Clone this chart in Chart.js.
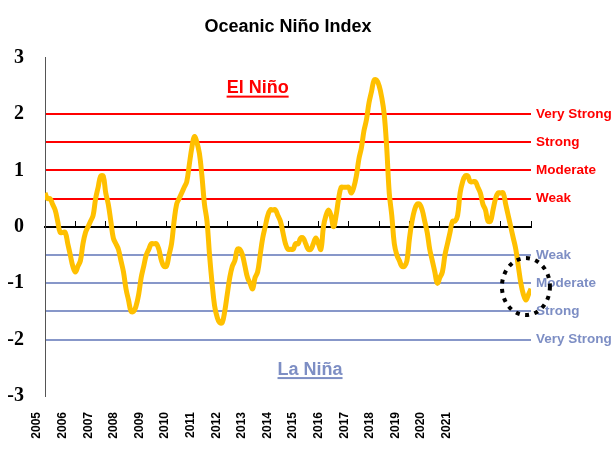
<!DOCTYPE html>
<html>
<head>
<meta charset="utf-8">
<script src="https://cdn.jsdelivr.net/npm/chart.js@4/dist/chart.umd.min.js"></script>
<style>
html, body { margin: 0; padding: 0; background: #ffffff; }
canvas { display: block; }
</style>
</head>
<body>
<canvas id="chart" width="612" height="456"></canvas>
<script>
// ---- Data ----
const yearLabels = ['2005','2006','2007','2008','2009','2010','2011','2012','2013',
                    '2014','2015','2016','2017','2018','2019','2020','2021'];

// Monthly Oceanic Niño Index, Jan 2005 .. Jan 2021
const oniValues = [
  0.6, 0.5, 0.5, 0.4, 0.3, 0.1, -0.1, -0.1, -0.1, -0.3, -0.5, -0.7,      // 2005
  -0.8, -0.7, -0.6, -0.3, -0.1, 0.0, 0.1, 0.2, 0.5, 0.7, 0.9, 0.9,       // 2006
  0.6, 0.4, 0.1, -0.2, -0.3, -0.4, -0.6, -0.8, -1.1, -1.3, -1.5, -1.5,   // 2007
  -1.4, -1.2, -0.9, -0.7, -0.5, -0.4, -0.3, -0.3, -0.3, -0.4, -0.6, -0.7,// 2008
  -0.7, -0.5, -0.3, 0.1, 0.4, 0.5, 0.6, 0.7, 0.8, 1.1, 1.4, 1.6,         // 2009
  1.5, 1.3, 0.9, 0.4, 0.1, -0.5, -1.0, -1.4, -1.6, -1.7, -1.7, -1.5,     // 2010
  -1.2, -0.9, -0.7, -0.6, -0.4, -0.4, -0.5, -0.7, -0.9, -1.0, -1.1, -0.9,// 2011
  -0.8, -0.5, -0.2, 0.0, 0.2, 0.3, 0.3, 0.3, 0.2, 0.1, -0.1, -0.3,       // 2012
  -0.4, -0.4, -0.4, -0.3, -0.3, -0.2, -0.2, -0.3, -0.4, -0.4, -0.3, -0.2,// 2013
  -0.3, -0.4, 0.0, 0.2, 0.3, 0.2, 0.0, 0.2, 0.5, 0.7, 0.7, 0.7,          // 2014
  0.7, 0.6, 0.7, 0.9, 1.2, 1.4, 1.7, 1.9, 2.2, 2.4, 2.6, 2.6,            // 2015
  2.5, 2.3, 2.0, 1.4, 0.6, 0.2, -0.3, -0.5, -0.6, -0.7, -0.7, -0.6,      // 2016
  -0.2, 0.1, 0.3, 0.4, 0.4, 0.3, 0.1, -0.1, -0.4, -0.6, -0.8, -1.0,      // 2017
  -0.9, -0.8, -0.5, -0.3, -0.1, 0.1, 0.1, 0.2, 0.6, 0.8, 0.9, 0.9,       // 2018
  0.8, 0.8, 0.8, 0.7, 0.6, 0.4, 0.3, 0.1, 0.1, 0.3, 0.5, 0.6,            // 2019
  0.6, 0.6, 0.4, 0.2, 0.0, -0.2, -0.4, -0.7, -1.0, -1.2, -1.3, -1.2,     // 2020
  -1.1                                                                     // 2021
];

const thresholdLevels = [2, 1.5, 1, 0.5, -0.5, -1, -1.5, -2];
const thresholdNames  = ['Very Strong', 'Strong', 'Moderate', 'Weak',
                         'Weak', 'Moderate', 'Strong', 'Very Strong'];
const yAxisTicks = [-3, -2, -1, 0, 1, 2, 3];

const phaseTexts  = ['El Niño', 'La Niña'];
const phaseMonths = [84, 104.7];
const phaseValues = [2.37, -2.62];

const highlightMonth = 190;
const highlightValue = -1.06;

// ---- Styles ----
const RED = '#ff0000';
const BLUE_LINE = '#8797c9';
const BLUE_TEXT = '#7d8ec4';
const ORANGE = '#ffc000';
const SANS = '"Liberation Sans", Arial, sans-serif';
const SERIF = '"Liberation Serif", "Times New Roman", serif';

function levelColor(v, forText) {
  const idx = thresholdLevels.indexOf(v);
  if (idx === -1) return 'rgba(0,0,0,0)';
  return v > 0 ? RED : (forText ? BLUE_TEXT : BLUE_LINE);
}

const annotations = {
  id: 'oniAnnotations',
  afterDatasetsDraw(chart) {
    const { ctx, scales } = chart;
    const x = scales.x, y = scales.y;
    ctx.save();
    phaseTexts.forEach((t, i) => {
      const px = x.getPixelForValue(phaseMonths[i]);
      const py = y.getPixelForValue(phaseValues[i]);
      const col = phaseValues[i] > 0 ? RED : BLUE_TEXT;
      ctx.font = 'bold 18px ' + SANS;
      ctx.fillStyle = col;
      ctx.textAlign = 'center';
      ctx.textBaseline = 'alphabetic';
      ctx.fillText(t, px, py);
      const w = ctx.measureText(t).width;
      ctx.fillRect(px - w / 2, py + 2.5, w, 2);
    });
    const cx = x.getPixelForValue(highlightMonth);
    const cy = y.getPixelForValue(highlightValue);
    ctx.beginPath();
    ctx.setLineDash([4, 5.5]);
    ctx.lineWidth = 4;
    ctx.strokeStyle = '#000000';
    ctx.ellipse(cx, cy, 24, 28.5, 0, 0, Math.PI * 2);
    ctx.stroke();
    ctx.restore();
  }
};

new Chart(document.getElementById('chart'), {
  type: 'line',
  data: {
    datasets: [{
      label: 'ONI',
      data: oniValues.map((v, i) => ({ x: i, y: v })),
      borderColor: ORANGE,
      borderWidth: 5,
      pointRadius: 0,
      tension: 0.4,
      borderJoinStyle: 'round',
      borderCapStyle: 'butt',
      fill: false
    }]
  },
  options: {
    responsive: false,
    animation: false,
    devicePixelRatio: 1,
    layout: { padding: { left: 7, right: 0, top: 3, bottom: 17 } },
    plugins: {
      legend: { display: false },
      tooltip: { enabled: false },
      title: {
        display: true,
        text: 'Oceanic Niño Index',
        fullSize: false,
        color: '#000000',
        font: { family: SANS, size: 18, weight: 'bold' },
        padding: { top: 13, bottom: 20 }
      }
    },
    scales: {
      x: {
        type: 'linear',
        position: { y: 0 },
        min: 0,
        max: (yearLabels.length - 1) * 12,
        ticks: { display: false, stepSize: 12 },
        grid: { display: true, drawOnChartArea: false, drawTicks: true, tickLength: -7, color: '#000000', lineWidth: 1 },
        border: { display: true, color: '#000000', width: 2 }
      },
      xl: {
        type: 'linear',
        position: 'bottom',
        min: 0,
        max: 18.98,
        afterBuildTicks: (axis) => { axis.ticks = yearLabels.map((_, i) => ({ value: i })); },
        afterFit: (axis) => { axis.height = 43; },
        ticks: {
          autoSkip: false,
          minRotation: 90,
          maxRotation: 90,
          padding: 16,
          labelOffset: -8,
          color: '#000000',
          font: { family: SANS, size: 12, weight: 'bold' },
          callback: (v) => yearLabels[v]
        },
        grid: { display: false, drawTicks: false },
        border: { display: false }
      },
      y: {
        type: 'linear',
        position: 'left',
        min: -3,
        max: 3,
        afterFit: (axis) => { axis.width = 38; },
        ticks: {
          stepSize: 0.5,
          autoSkip: false,
          padding: 21,
          color: '#000000',
          font: { family: SERIF, size: 20, weight: 'bold' },
          callback: (v) => yAxisTicks.includes(v) ? String(v) : ''
        },
        grid: {
          drawTicks: false,
          lineWidth: 2,
          color: (ctx) => ctx.tick ? (ctx.tick.value === 0 ? '#000000' : levelColor(ctx.tick.value, false)) : 'rgba(0,0,0,0)'
        },
        border: { display: true, color: '#555555', width: 1 }
      },
      yr: {
        type: 'linear',
        position: 'right',
        min: -3,
        max: 3,
        afterFit: (axis) => { axis.width = 81; },
        ticks: {
          stepSize: 0.5,
          autoSkip: false,
          padding: 5,
          font: { family: SANS, size: 13.5, weight: 'bold' },
          color: (ctx) => levelColor(ctx.tick.value, true),
          callback: (v) => {
            const idx = thresholdLevels.indexOf(v);
            return idx === -1 ? '' : thresholdNames[idx];
          }
        },
        grid: { display: false, drawTicks: false },
        border: { display: false }
      }
    }
  },
  plugins: [annotations]
});
</script>
</body>
</html>
